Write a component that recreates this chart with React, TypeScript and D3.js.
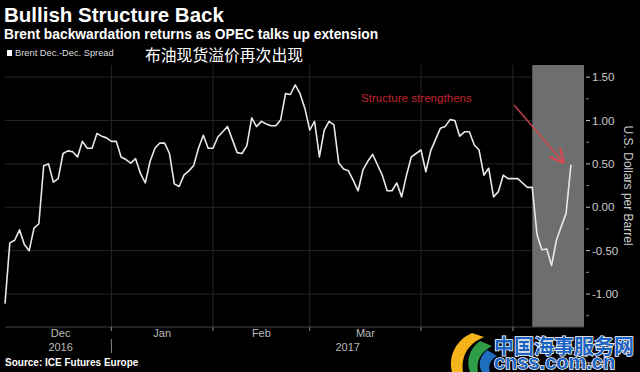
import React from "react";
import * as d3 from "d3";

// Brent Dec17-Dec18 spread, one value per ICE trading day
const firstDay = "2016-11-30";
const lastDay = "2017-05-17";
const holidays = ["2016-12-26", "2017-01-02", "2017-04-14"];

const spread = [
  -1.11, -0.41, -0.38, -0.26, -0.43, -0.5, -0.24, -0.19, 0.48, 0.5,
  0.29, 0.33, 0.62, 0.65, 0.64, 0.58, 0.76, 0.68, 0.68, 0.85,
  0.82, 0.8, 0.76, 0.76, 0.58, 0.55, 0.51, 0.56, 0.39, 0.28,
  0.53, 0.68, 0.74, 0.74, 0.62, 0.27, 0.24, 0.37, 0.42, 0.48,
  0.68, 0.83, 0.68, 0.68, 0.81, 0.87, 0.93, 0.78, 0.63, 0.62,
  0.71, 1.03, 0.93, 0.99, 0.96, 0.94, 0.94, 1.01, 1.31, 1.3,
  1.41, 1.31, 1.14, 0.89, 0.99, 0.58, 0.89, 0.99, 0.95, 0.51,
  0.44, 0.42, 0.31, 0.19, 0.43, 0.53, 0.61, 0.49, 0.37, 0.19,
  0.19, 0.28, 0.12, 0.37, 0.58, 0.62, 0.66, 0.41, 0.65, 0.78,
  0.91, 0.93, 1.01, 1.0, 0.82, 0.87, 0.87, 0.72, 0.66, 0.37,
  0.45, 0.12, 0.18, 0.37, 0.33, 0.33, 0.33, 0.28, 0.23, 0.23,
  -0.32, -0.49, -0.48, -0.67, -0.38, -0.22, -0.07, 0.49,
];

const yTicks = [-1, -0.5, 0, 0.5, 1, 1.5];
const yMinorTicks = [-1.25, -0.75, -0.25, 0.25, 0.75, 1.25];
const monthStarts = ["2016-12-01", "2017-01-01", "2017-02-01", "2017-03-01", "2017-04-01", "2017-05-01"];
const monthLabels = ["Dec", "Jan", "Feb", "Mar"];
const yearLabels = ["2016", "2017"];
const shadeFrom = "2017-05-05";

const parse = d3.timeParse("%Y-%m-%d");
const fmt = d3.timeFormat("%Y-%m-%d");

// trading calendar: weekdays minus exchange holidays
const days = d3.timeDay
  .range(parse(firstDay)!, d3.timeDay.offset(parse(lastDay)!, 1))
  .filter((d) => d.getDay() !== 0 && d.getDay() !== 6 && !holidays.includes(fmt(d)));

const series = spread.slice(0, days.length);

const dayIndex = (s: string) => d3.bisector((d: Date) => d).left(days, parse(s)!);

const FONT = "'Liberation Sans', Arial, sans-serif";

export default function App() {
  const left = 5;
  const right = 584;
  const top = 65;
  const bottom = 327;

  const x = d3.scaleLinear().domain([0, days.length - 1 + 2.7]).range([left, right]);
  const y = d3.scaleLinear().domain([-1.38, 1.64]).range([bottom, top]);

  const line = d3
    .line<number>()
    .x((_, i) => x(i))
    .y((d) => y(d));

  const starts = monthStarts.map(dayIndex);
  const gridX = starts.slice(1).map((i) => x(i));
  const labelX = monthLabels.map((_, i) => (x(starts[i]) + x(starts[i + 1])) / 2);
  const yearX = [labelX[0], (x(starts[1]) + right) / 2];
  const shadeX = x(dayIndex(shadeFrom));

  return (
    <svg
      width={640}
      height={372}
      style={{ position: "absolute", left: 0, top: 0, background: "#000", display: "block" }}
    >
      <defs>
        <marker id="head" viewBox="0 0 10 10" refX="9" refY="5" markerWidth="9" markerHeight="9" orient="auto">
          <path d="M0,0 L10,5 L0,10" fill="none" stroke="rgba(225,70,80,0.9)" strokeWidth="1.6" />
        </marker>
      </defs>

      {/* titles */}
      <text x={4} y={22} fill="#fff" fontFamily={FONT} fontWeight="bold" fontSize={20.5}>
        Bullish Structure Back
      </text>
      <text x={4} y={39} fill="#fff" fontFamily={FONT} fontWeight="bold" fontSize={13.8}>
        Brent backwardation returns as OPEC talks up extension
      </text>
      <rect x={7} y={50} width={5} height={6} fill="#fff" />
      <text x={15} y={56} fill="#ddd" fontFamily={FONT} fontSize={9.3}>
        Brent Dec.-Dec. Spread
      </text>
      <text x={145} y={61} fill="#fff" fontFamily="'Noto Sans CJK SC', sans-serif" fontSize={15.8}>
        布油现货溢价再次出现
      </text>

      {/* grid */}
      {yTicks.map((t) => (
        <line key={t} x1={left} x2={right} y1={y(t)} y2={y(t)} stroke="#262626" strokeWidth={1} />
      ))}
      {gridX.map((gx, i) => (
        <line key={i} x1={gx} x2={gx} y1={top} y2={bottom} stroke="#262626" strokeWidth={1} />
      ))}

      {/* highlighted period */}
      <rect x={shadeX} y={top} width={right - shadeX} height={bottom - top} fill="#6e6e6e" />

      {/* series */}
      <path d={line(series) ?? ""} fill="none" stroke="#e8e8e8" strokeWidth={1.6} strokeLinejoin="round" />

      {/* annotation */}
      <text x={361} y={102} fill="#c0242c" fontFamily={FONT} fontSize={11.6}>
        Structure strengthens
      </text>
      <line x1={514} y1={105} x2={563} y2={162} stroke="rgba(225,70,80,0.85)" strokeWidth={1.6} markerEnd="url(#head)" />

      {/* y axis */}
      {yTicks.map((t) => (
        <g key={t}>
          <line x1={586} x2={590} y1={y(t)} y2={y(t)} stroke="#bbb" />
          <text x={592} y={y(t) + 4} fill="#ccc" fontFamily={FONT} fontSize={11.5}>
            {d3.format(".2f")(t).replace("−", "-")}
          </text>
        </g>
      ))}
      {yMinorTicks.map((t) => (
        <line key={t} x1={586} x2={589} y1={y(t)} y2={y(t)} stroke="#888" />
      ))}
      <text
        transform={`translate(624,${y(0.25)}) rotate(90)`}
        textAnchor="middle"
        fill="#ccc"
        fontFamily={FONT}
        fontSize={12}
      >
        U.S. Dollars per Barrel
      </text>

      {/* x axis */}
      <line x1={left} x2={right} y1={bottom} y2={bottom} stroke="#444" />
      {gridX.map((gx, i) => (
        <line key={i} x1={gx} x2={gx} y1={bottom} y2={bottom + 4} stroke="#888" />
      ))}
      {monthLabels.map((m, i) => (
        <text key={m} x={labelX[i]} y={337} textAnchor="middle" fill="#bbb" fontFamily={FONT} fontSize={11}>
          {m}
        </text>
      ))}
      {yearLabels.map((yl, i) => (
        <text key={yl} x={yearX[i]} y={351} textAnchor="middle" fill="#bbb" fontFamily={FONT} fontSize={11}>
          {yl}
        </text>
      ))}
      <line x1={x(starts[1])} x2={x(starts[1])} y1={339} y2={353} stroke="#888" />

      <text x={5} y={366} fill="#fff" fontFamily={FONT} fontWeight="bold" fontSize={10}>
        Source: ICE Futures Europe
      </text>

      {/* watermark */}
      <text x={562} y={368} fill="#999" fontFamily={FONT} fontWeight="bold" fontSize={10}>
        Bloomberg
      </text>
      <path d="M472,333 C456,340 448,356 452,372 L463,372 C461,357 467,344 484,337 Z" fill="#f4b41a" />
      <path d="M480,341 C469,349 466,361 470,372 L478,372 C476,362 480,352 492,346 Z" fill="#2e9e48" />
      <path d="M487,350 C479,357 478,366 482,372 L490,372 C488,366 490,360 497,356 Z" fill="#1f6fc0" />
      <text
        x={494}
        y={354}
        fill="#1b63c2"
        stroke="#fff"
        strokeWidth={1.5}
        paintOrder="stroke"
        fontFamily="'Noto Sans CJK SC', sans-serif"
        fontWeight="bold"
        fontSize={20}
      >
        中国海事服务网
      </text>
      <text
        x={494}
        y={369}
        fill="#1b63c2"
        stroke="#fff"
        strokeWidth={1.5}
        paintOrder="stroke"
        fontFamily={FONT}
        fontWeight="bold"
        fontSize={20}
      >
        cnss.com.cn
      </text>
    </svg>
  );
}
